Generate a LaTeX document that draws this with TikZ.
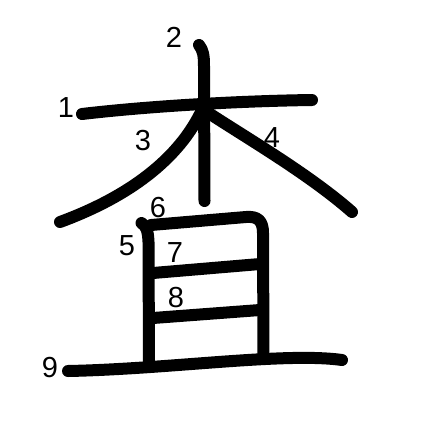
\documentclass[tikz,border=0pt]{standalone}
\usepackage{fontspec}
\setmainfont{Liberation Sans}
\usetikzlibrary{positioning}
\tikzset{
  kanjistroke/.style={line width=12pt, line cap=round, line join=round,
    draw=black},
  strokenum/.style={inner sep=0pt, font=\fontsize{29}{29}\selectfont}
}

\begin{document}
\begin{tikzpicture}[x=1pt, y=-1pt]
  \useasboundingbox (0,0) rectangle (447,447);

  % strokes of the character
  \draw[kanjistroke] (82,114) .. controls (150,106) and (240,101) .. (312,100);
  \draw[kanjistroke] (199,45) .. controls (203,50) and (204,55) .. (204,66)
    -- (204.5,201);
  \draw[kanjistroke] (201,112) .. controls (175,165) and (120,200) .. (60,222);
  \draw[kanjistroke] (207,112) .. controls (250,140) and (310,175) .. (352,212);
  \draw[kanjistroke] (141.5,223) .. controls (146,226) and (148,230) .. (148.5,242)
    -- (149,363);
  \draw[kanjistroke] (151,225) -- (246,217) .. controls (258,216) and (263,221)
    .. (263,233) -- (263.5,355);
  \draw[kanjistroke] (153,273) -- (260,264);
  \draw[kanjistroke] (153,318) -- (260,310);
  \draw[kanjistroke] (68,371) .. controls (170,369) and (285,352) .. (342,360);

  % stroke numbers
  \node[strokenum] (n1) at (66,108) {1};
  \node[strokenum] (n2) at (174,37) {2};
  \node[strokenum] (n3) at (143,141) {3};
  \node[strokenum] (n4) at (272,138) {4};
  \node[strokenum] (n5) at (127,246) {5};
  \node[strokenum] (n6) at (158,208) {6};
  \node[strokenum] (n7) at (175,253) {7};
  \node[strokenum] (n8) at (176,298) {8};
  \node[strokenum] (n9) at (50,368) {9};
\end{tikzpicture}
\end{document}
